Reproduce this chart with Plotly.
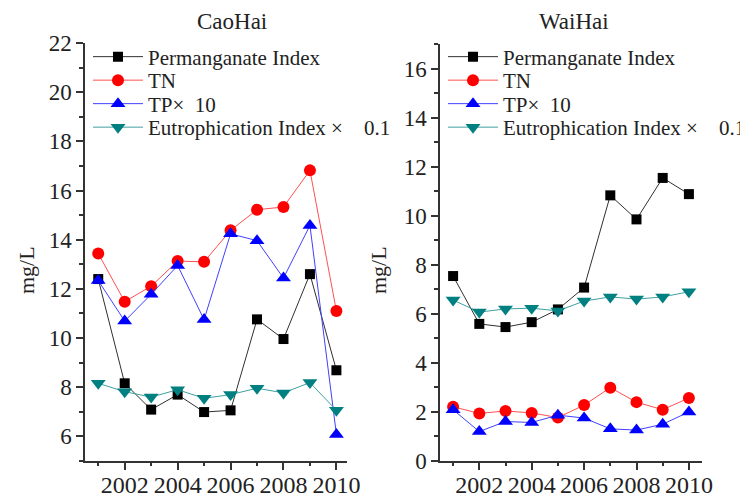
import plotly.graph_objects as go

years = [2001, 2002, 2003, 2004, 2005, 2006, 2007, 2008, 2009, 2010]
tick_years = [2002, 2004, 2006, 2008, 2010]
tick_labels = ["2002", "2004", "2006", "2008", "2010"]

series_names = ["Permanganate Index", "TN", "TP\u00d7\u00a0\u00a010",
                "Eutrophication Index \u00d7\u00a0\u00a0\u00a0\u00a00.1"]

cao_perm = [12.4, 8.16, 7.09, 7.7, 6.99, 7.06, 10.76, 9.96, 12.6, 8.69]
cao_tn = [13.44, 11.48, 12.11, 13.13, 13.1, 14.38, 15.22, 15.33, 16.82, 11.1]
cao_tp = [12.34, 10.69, 11.78, 12.95, 10.75, 14.24, 13.96, 12.44, 14.58, 6.08]
cao_eut = [8.16, 7.82, 7.6, 7.9, 7.55, 7.7, 7.96, 7.77, 8.19, 7.06]

wai_perm = [7.54, 5.59, 5.46, 5.66, 6.18, 7.07, 10.83, 9.85, 11.54, 10.88]
wai_tn = [2.21, 1.94, 2.04, 1.96, 1.77, 2.28, 2.99, 2.40, 2.09, 2.57]
wai_tp = [2.09, 1.2, 1.61, 1.57, 1.87, 1.75, 1.31, 1.26, 1.5, 2.0]
wai_eut = [6.56, 6.07, 6.2, 6.23, 6.12, 6.52, 6.69, 6.6, 6.69, 6.9]

FONT = "Liberation Serif"
TXT = "#222222"
styles = [
    dict(line=dict(color="#303030", width=1), marker=dict(symbol="square", size=10, color="#000000")),
    dict(line=dict(color="#ff5050", width=1), marker=dict(symbol="circle", size=12, color="#ff0000")),
    dict(line=dict(color="#4040ff", width=1), marker=dict(symbol="triangle-up", size=13, color="#0000ff")),
    dict(line=dict(color="#40a0a0", width=1), marker=dict(symbol="triangle-down", size=13, color="#008080")),
]

W, H = 740, 493
def px_x(p):
    return p / W
def px_y(p):
    return 1 - p / H

legend_rows = [57, 80.5, 104, 127.5]

fig = go.Figure()
legends = {}
k = 2
for panel, (xa, ya, data, lx) in enumerate([
        ("x", "y", [cao_perm, cao_tn, cao_tp, cao_eut], 88),
        ("x2", "y2", [wai_perm, wai_tn, wai_tp, wai_eut], 443)]):
    for i, (vals, name, st) in enumerate(zip(data, series_names, styles)):
        lname = f"legend{k}"
        fig.add_trace(go.Scatter(x=years, y=vals, name=name, mode="lines+markers",
                                 xaxis=xa, yaxis=ya, legend=lname, showlegend=True, **st))
        legends[lname] = dict(x=px_x(lx), y=px_y(legend_rows[i]), xanchor="left", yanchor="middle",
                              bgcolor="rgba(0,0,0,0)", itemwidth=50, borderwidth=0,
                              font=dict(family=FONT, size=21, color=TXT))
        k += 1

axis_common = dict(showline=True, linecolor="#333333", linewidth=1.5, ticks="outside",
                   ticklen=7, tickwidth=1.5, tickcolor="#333333", showgrid=False, zeroline=False,
                   tickfont=dict(family=FONT, size=23, color=TXT), automargin=False,
                   mirror=False)
xcommon = dict(axis_common, tickvals=tick_years, ticktext=tick_labels, ticklabelstandoff=-6,
               tickfont=dict(family=FONT, size=24, color=TXT),
               minor=dict(dtick=1, tick0=2001, ticks="outside", ticklen=3, tickcolor="#333333", tickwidth=1.5))
yminor = dict(dtick=1, ticks="outside", ticklen=4, tickcolor="#333333", tickwidth=1.5)

fig.update_layout(
    width=W, height=H, template="none", showlegend=True,
    paper_bgcolor="white", plot_bgcolor="white",
    margin=dict(l=0, r=0, t=0, b=0, autoexpand=False),
    xaxis=dict(xcommon, domain=[px_x(85), px_x(347)], range=[2000.5, 2010.4], anchor="y"),
    yaxis=dict(axis_common, domain=[px_y(461), px_y(43)], range=[5, 22], tick0=0, dtick=2, anchor="x",
               minor=yminor),
    xaxis2=dict(xcommon, domain=[px_x(440), px_x(702)], range=[2000.5, 2010.5], anchor="y2"),
    yaxis2=dict(axis_common, domain=[px_y(461), px_y(44)], range=[0, 17], tick0=0, dtick=2, anchor="x2",
                minor=yminor),
    font=dict(family=FONT, color=TXT),
    annotations=[
        dict(text="CaoHai", x=px_x(232), y=px_y(21), xref="paper", yref="paper", showarrow=False,
             xanchor="center", yanchor="middle", font=dict(family=FONT, size=23, color=TXT)),
        dict(text="WaiHai", x=px_x(574), y=px_y(21), xref="paper", yref="paper", showarrow=False,
             xanchor="center", yanchor="middle", font=dict(family=FONT, size=23, color=TXT)),
        dict(text="mg/L", x=px_x(26), y=px_y(270), xref="paper", yref="paper", showarrow=False,
             xanchor="center", yanchor="middle", textangle=-90, font=dict(family=FONT, size=22, color=TXT)),
        dict(text="mg/L", x=px_x(378), y=px_y(270), xref="paper", yref="paper", showarrow=False,
             xanchor="center", yanchor="middle", textangle=-90, font=dict(family=FONT, size=22, color=TXT)),
    ],
)
fig.update_layout(**legends)

fig.write_html("out.html", config={"displayModeBar": False},
               post_script="document.body.style.margin='0';document.body.style.padding='0';")
